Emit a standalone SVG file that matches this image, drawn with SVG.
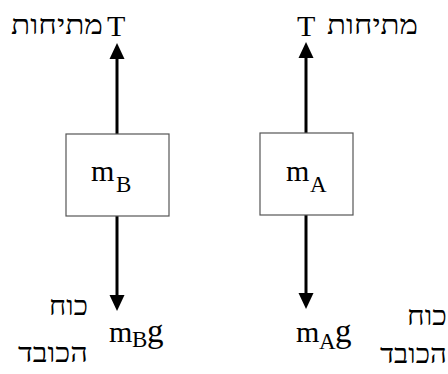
<svg xmlns="http://www.w3.org/2000/svg" width="448" height="374" viewBox="0 0 448 374">
<style>
.box{fill:#fff;stroke:#555;stroke-width:1.2}
.lat{font-family:"Liberation Serif","Times New Roman",serif;font-size:30px;fill:#000}
.sub{font-size:23px}
.g{font-size:33px}
.heb{font-family:"Liberation Serif","DejaVu Serif",serif;font-size:27px;fill:#000}
.shaft{stroke:#000;stroke-width:3;fill:none}
.head{fill:#000}
</style>
<rect width="448" height="374" fill="#fff"/>
<g id="connectors">
<line class="shaft" x1="117" y1="134" x2="117" y2="56"/>
<polygon class="head" points="117,43 109.5,59 124.5,59"/>
<line class="shaft" x1="117" y1="216" x2="117" y2="297"/>
<polygon class="head" points="117,311 109.5,295 124.5,295"/>
<line class="shaft" x1="306" y1="133" x2="306" y2="56"/>
<polygon class="head" points="306,42 298.5,58 313.5,58"/>
<line class="shaft" x1="306" y1="215" x2="306" y2="295"/>
<polygon class="head" points="306,309 298.5,293 313.5,293"/>
</g>
<g id="nodeB">
<rect class="box" x="66" y="134" width="103" height="82"/>
<text class="lat" x="91" y="181">m<tspan class="sub" x="116" y="192">B</tspan></text>
</g>
<g id="nodeA">
<rect class="box" x="260" y="133" width="93" height="82"/>
<text class="lat" x="286" y="181">m<tspan class="sub" x="310" y="192">A</tspan></text>
</g>
<g id="labelTB">
<text class="heb" x="11" y="34" textLength="92" lengthAdjust="spacingAndGlyphs">מתיחות</text>
<text class="lat" x="107" y="36">T</text>
</g>
<g id="labelTA">
<text class="lat" x="297" y="36">T</text>
<text class="heb" x="327" y="34" textLength="91" lengthAdjust="spacingAndGlyphs">מתיחות</text>
</g>
<g id="labelGB">
<text class="heb" x="49" y="315" textLength="39" lengthAdjust="spacingAndGlyphs">כוח</text>
<text class="heb" x="18" y="362" textLength="70" lengthAdjust="spacingAndGlyphs">הכובד</text>
<text class="lat" x="109" y="342">m<tspan class="sub" x="132" y="347">B</tspan><tspan class="g" x="147" y="342">g</tspan></text>
</g>
<g id="labelGA">
<text class="lat" x="296" y="342">m<tspan class="sub" x="319" y="349">A</tspan><tspan class="g" x="335" y="342">g</tspan></text>
<text class="heb" x="407" y="325" textLength="40" lengthAdjust="spacingAndGlyphs">כוח</text>
<text class="heb" x="380" y="363" textLength="67" lengthAdjust="spacingAndGlyphs">הכובד</text>
</g>
</svg>
